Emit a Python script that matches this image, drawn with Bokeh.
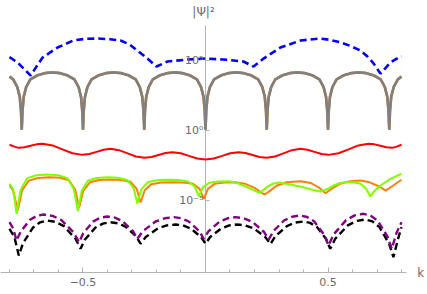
from bokeh.plotting import figure
from bokeh.models import FixedTicker, CustomJSTickFormatter, Label
from bokeh.embed import file_html
from bokeh.resources import INLINE

# ---------------- data (k, log10 |Psi|^2) ----------------
blue_k = [-0.8, -0.767, -0.714, -0.665, -0.604, -0.539, -0.49, -0.441, -0.39, -0.347, -0.31,
          -0.278, -0.237, -0.2, -0.155, -0.073, 0.0, 0.073, 0.155, 0.196, 0.237, 0.306, 0.388,
          0.469, 0.51, 0.551, 0.59, 0.633, 0.66, 0.686, 0.714, 0.755, 0.788, 0.8]
blue_log10 = [5.24, 4.86, 3.93, 5.21, 5.93, 6.43, 6.55, 6.57, 6.52, 6.43, 6.15,
              5.71, 5.14, 4.57, 4.93, 5.07, 5.14, 5.07, 4.93, 4.57, 5.14, 5.93, 6.43,
              6.57, 6.47, 6.29, 6.05, 5.71, 5.3, 4.79, 4.07, 4.86, 5.21, 5.3]

gray_k = [-0.8, -0.785, -0.768, -0.758, -0.753, -0.75, -0.747, -0.742, -0.732, -0.715, -0.685, -0.655, -0.625,
          -0.595, -0.565, -0.535, -0.518, -0.508, -0.503, -0.5, -0.497, -0.492, -0.482, -0.465, -0.435, -0.405, -0.375,
          -0.345, -0.315, -0.285, -0.268, -0.258, -0.253, -0.25, -0.247, -0.242, -0.232, -0.215, -0.185, -0.155, -0.125,
          -0.095, -0.065, -0.035, -0.018, -0.008, -0.003, 0.0, 0.003, 0.008, 0.018, 0.035, 0.065, 0.095, 0.125,
          0.155, 0.185, 0.215, 0.232, 0.242, 0.247, 0.25, 0.253, 0.258, 0.268, 0.285, 0.315, 0.345, 0.375,
          0.405, 0.435, 0.465, 0.482, 0.492, 0.497, 0.5, 0.503, 0.508, 0.518, 0.535, 0.565, 0.595, 0.625,
          0.655, 0.685, 0.715, 0.732, 0.742, 0.747, 0.75, 0.753, 0.758, 0.768, 0.785, 0.8]
gray_log10 = [3.85, 3.65, 3.1, 2.4, 1.4, 0.05, 1.4, 2.4, 3.1, 3.65, 3.95, 4.1, 4.15,
              4.1, 3.95, 3.65, 3.1, 2.4, 1.4, 0.05, 1.4, 2.4, 3.1, 3.65, 3.95, 4.1, 4.15,
              4.1, 3.95, 3.65, 3.1, 2.4, 1.4, 0.05, 1.4, 2.4, 3.1, 3.65, 3.95, 4.1, 4.15,
              4.1, 3.95, 3.65, 3.1, 2.4, 1.4, 0.05, 1.4, 2.4, 3.1, 3.65, 3.95, 4.1, 4.15,
              4.1, 3.95, 3.65, 3.1, 2.4, 1.4, 0.05, 1.4, 2.4, 3.1, 3.65, 3.95, 4.1, 4.15,
              4.1, 3.95, 3.65, 3.1, 2.4, 1.4, 0.05, 1.4, 2.4, 3.1, 3.65, 3.95, 4.1, 4.15,
              4.1, 3.95, 3.65, 3.1, 2.4, 1.4, 0.05, 1.4, 2.4, 3.1, 3.65, 3.85]

red_k = [-0.8, -0.78, -0.763, -0.738, -0.714, -0.69, -0.665, -0.624, -0.584, -0.543, -0.502,
         -0.474, -0.445, -0.416, -0.388, -0.353, -0.318, -0.284, -0.249, -0.22, -0.192, -0.163,
         -0.135, -0.101, -0.068, -0.034, 0.0, 0.034, 0.068, 0.101, 0.135, 0.163, 0.192, 0.22,
         0.249, 0.284, 0.318, 0.353, 0.388, 0.416, 0.445, 0.474, 0.502, 0.543, 0.584, 0.624,
         0.665, 0.69, 0.714, 0.738, 0.763, 0.78, 0.8]
red_log10 = [-1.02, -1.15, -1.24, -1.2, -1.095, -0.99, -0.95, -1.065, -1.345, -1.625, -1.74,
             -1.677, -1.525, -1.373, -1.31, -1.403, -1.63, -1.857, -1.95, -1.892, -1.75, -1.608,
             -1.55, -1.626, -1.81, -1.994, -2.07, -1.994, -1.81, -1.626, -1.55, -1.608, -1.75, -1.892,
             -1.95, -1.857, -1.63, -1.403, -1.31, -1.373, -1.525, -1.677, -1.74, -1.625, -1.345, -1.065,
             -0.95, -0.99, -1.095, -1.2, -1.24, -1.15, -1.02]

green_k = [-0.8, -0.785, -0.771, -0.755, -0.729, -0.691, -0.646, -0.601, -0.564, -0.537, -0.521,
           -0.505, -0.48, -0.444, -0.401, -0.357, -0.32, -0.294, -0.278, -0.262, -0.236, -0.2,
           -0.156, -0.11, -0.071, -0.044, -0.027, -0.011, 0.015, 0.051, 0.095, 0.13, 0.17, 0.2,
           0.22, 0.25, 0.275, 0.3, 0.347, 0.4, 0.44, 0.469, 0.495, 0.522, 0.55, 0.578, 0.604,
           0.633, 0.655, 0.673, 0.69, 0.714, 0.755, 0.8]
green_log10 = [-3.81, -4.2, -5.95, -4.26, -3.42, -3.2, -3.14, -3.19, -3.4, -4.19, -5.76,
               -4.31, -3.58, -3.39, -3.34, -3.38, -3.53, -4.09, -5.21, -4.2, -3.69, -3.55,
               -3.52, -3.54, -3.64, -4.0, -4.71, -4.06, -3.73, -3.64, -3.62, -3.75, -4.05, -4.3,
               -4.46, -4.05, -3.8, -3.72, -3.85, -4.05, -4.25, -4.36, -4.2, -3.93, -3.75, -3.69, -3.69,
               -3.81, -4.15, -4.71, -4.3, -3.93, -3.45, -3.09]

orange_k = [-0.8, -0.785, -0.766, -0.749, -0.722, -0.683, -0.637, -0.593, -0.557, -0.532, -0.516,
            -0.499, -0.472, -0.434, -0.388, -0.344, -0.307, -0.281, -0.265, -0.248, -0.221, -0.182,
            -0.136, -0.09, -0.051, -0.024, -0.007, 0.01, 0.037, 0.076, 0.122, 0.16, 0.2, 0.225,
            0.241, 0.26, 0.29, 0.33, 0.388, 0.43, 0.465, 0.49, 0.515, 0.55, 0.59, 0.633, 0.67,
            0.71, 0.735, 0.76, 0.8]
orange_log10 = [-3.93, -4.3, -5.71, -4.29, -3.58, -3.39, -3.34, -3.38, -3.56, -4.21, -5.52,
                -4.31, -3.70, -3.54, -3.5, -3.53, -3.66, -4.16, -5.14, -4.27, -3.84, -3.72,
                -3.69, -3.71, -3.81, -4.17, -4.88, -4.17, -3.81, -3.71, -3.69, -3.8, -4.1, -4.4,
                -4.57, -4.35, -3.95, -3.7, -3.62, -3.75, -4.1, -4.48, -4.15, -3.8, -3.62, -3.57, -3.7,
                -4.0, -4.29, -4.0, -3.52]

purple_k = [-0.8, -0.785, -0.771, -0.754, -0.716, -0.688, -0.66, -0.624, -0.588, -0.538, -0.516,
            -0.499, -0.459, -0.43, -0.401, -0.37, -0.34, -0.296, -0.278, -0.256, -0.204, -0.166,
            -0.129, -0.098, -0.068, -0.025, -0.007, 0.012, 0.058, 0.09, 0.122, 0.156, 0.19, 0.238,
            0.258, 0.277, 0.322, 0.354, 0.386, 0.415, 0.444, 0.485, 0.502, 0.523, 0.574, 0.609,
            0.645, 0.674, 0.703, 0.743, 0.76, 0.78, 0.8]
purple_log10 = [-6.55, -7.0, -7.86, -7.21, -6.37, -6.09, -6.0, -6.10, -6.40, -7.29, -7.98,
                -7.34, -6.51, -6.23, -6.14, -6.22, -6.46, -7.18, -7.74, -7.20, -6.5, -6.27,
                -6.19, -6.27, -6.5, -7.20, -7.74, -7.20, -6.5, -6.27, -6.19, -6.27, -6.51, -7.23,
                -7.79, -7.19, -6.41, -6.16, -6.07, -6.18, -6.50, -7.46, -8.21, -7.42, -6.40, -6.06,
                -5.95, -6.08, -6.45, -7.58, -8.45, -7.3, -6.55]

black_k = [-0.8, -0.78, -0.762, -0.745, -0.704, -0.675, -0.646, -0.612, -0.578, -0.53, -0.51,
           -0.492, -0.449, -0.419, -0.388, -0.357, -0.327, -0.283, -0.265, -0.244, -0.194, -0.158,
           -0.122, -0.092, -0.061, -0.018, 0.0, 0.019, 0.065, 0.097, 0.129, 0.163, 0.197, 0.245,
           0.265, 0.285, 0.333, 0.366, 0.4, 0.427, 0.455, 0.493, 0.509, 0.53, 0.581, 0.616,
           0.652, 0.681, 0.71, 0.75, 0.767, 0.785, 0.8]
black_log10 = [-7.02, -7.6, -8.93, -8.06, -6.93, -6.56, -6.43, -6.53, -6.83, -7.74, -8.45,
               -7.79, -6.93, -6.65, -6.55, -6.63, -6.86, -7.55, -8.09, -7.61, -6.99, -6.78,
               -6.71, -6.78, -6.99, -7.61, -8.09, -7.61, -6.99, -6.78, -6.71, -6.78, -6.99, -7.63,
               -8.12, -7.55, -6.82, -6.58, -6.5, -6.60, -6.89, -7.77, -8.45, -7.72, -6.78, -6.46,
               -6.36, -6.49, -6.90, -8.11, -9.05, -7.8, -6.9]

x_major_ticks = [-0.5, 0.5]
x_minor_ticks = [-0.8, -0.7, -0.6, -0.4, -0.3, -0.2, -0.1, 0.0, 0.1, 0.2, 0.3, 0.4, 0.6, 0.7, 0.8]
y_major_ticks = [1e-5, 1.0, 1e5]
y_label = "|\u03a8|\u00b2"
x_label = "k"

# plot / axis extents
X_LO, X_HI = -0.8367, 0.9061          # whole canvas
AX_X_END = 0.8204                      # right end of the k axis line
Y_LO, Y_HI = 10 ** -11.714, 10 ** 9.286
Y_AX = 10 ** -10.143                   # where the k axis sits
Y_AX_TOP = 10 ** 7.5                   # top of the vertical axis line


def pw(vals):
    return [10 ** v for v in vals]


p = figure(width=427, height=294, y_axis_type="log",
           x_range=(X_LO, X_HI), y_range=(Y_LO, Y_HI),
           toolbar_location=None, output_backend="svg",
           min_border_left=0, min_border_right=0, min_border_top=0, min_border_bottom=0)
p.outline_line_color = None
p.grid.visible = False

AX = "#b3b3b3"
LAB = "#6b6b6b"
FONT = "DejaVu Sans"

# axis lines (drawn through the scales, limited like the original)
p.line([X_LO, AX_X_END], [Y_AX, Y_AX], line_color=AX, line_width=1)
p.line([0, 0], [Y_AX, Y_AX_TOP], line_color=AX, line_width=1)

xa = p.xaxis[0]
xa.fixed_location = Y_AX
xa.ticker = FixedTicker(ticks=x_major_ticks, minor_ticks=x_minor_ticks)
xa.formatter = CustomJSTickFormatter(
    code="return tick < 0 ? '\\u2212' + (-tick).toFixed(1) : tick.toFixed(1);")
xa.axis_line_color = None
xa.major_tick_line_color = AX
xa.minor_tick_line_color = AX
xa.major_tick_in = 5
xa.major_tick_out = 0
xa.minor_tick_in = 3
xa.minor_tick_out = 0
xa.major_label_standoff = 5
xa.major_label_text_font = FONT
xa.major_label_text_font_size = "11px"
xa.major_label_text_color = LAB

ya = p.yaxis[0]
ya.fixed_location = 0
ya.ticker = FixedTicker(ticks=y_major_ticks, minor_ticks=[])
ya.formatter = CustomJSTickFormatter(code="""
const sup = {'-':'\\u207b','0':'\\u2070','1':'\\u00b9','2':'\\u00b2','3':'\\u00b3','4':'\\u2074',
             '5':'\\u2075','6':'\\u2076','7':'\\u2077','8':'\\u2078','9':'\\u2079'};
const e = String(Math.round(Math.log10(tick)));
return '10' + e.split('').map(c => sup[c]).join('');
""")
ya.axis_line_color = None
ya.major_tick_line_color = AX
ya.major_tick_in = 4
ya.major_tick_out = 0
ya.major_label_standoff = 2
ya.major_label_text_font = FONT
ya.major_label_text_font_size = "11px"
ya.major_label_text_color = LAB

# curves
p.line(blue_k, pw(blue_log10), line_color="#0000ff", line_width=2.6, line_dash="7 4")
p.line(gray_k, pw(gray_log10), line_color="#d2781e", line_width=2.7)
p.line(gray_k, pw(gray_log10), line_color="#808080", line_width=2.5)
p.line(red_k, pw(red_log10), line_color="#ff0000", line_width=2)
p.line(orange_k, pw(orange_log10), line_color="#ff8000", line_width=2)
p.line(green_k, pw(green_log10), line_color="#80ff00", line_width=2)
p.line(black_k, pw(black_log10), line_color="#000000", line_width=2.4, line_dash="7 4")
p.line(purple_k, pw(purple_log10), line_color="#800080", line_width=2.4, line_dash="7 4")

p.add_layout(Label(x=-0.008, y=10 ** 8.43, text=y_label, text_align="center",
                   text_baseline="middle", text_font=FONT, text_font_size="12px",
                   text_color=LAB))
p.add_layout(Label(x=0.878, y=Y_AX, text=x_label, text_align="center",
                   text_baseline="middle", text_font=FONT, text_font_size="12px",
                   text_color=LAB))

open("out.html", "w").write(file_html(p, INLINE))
